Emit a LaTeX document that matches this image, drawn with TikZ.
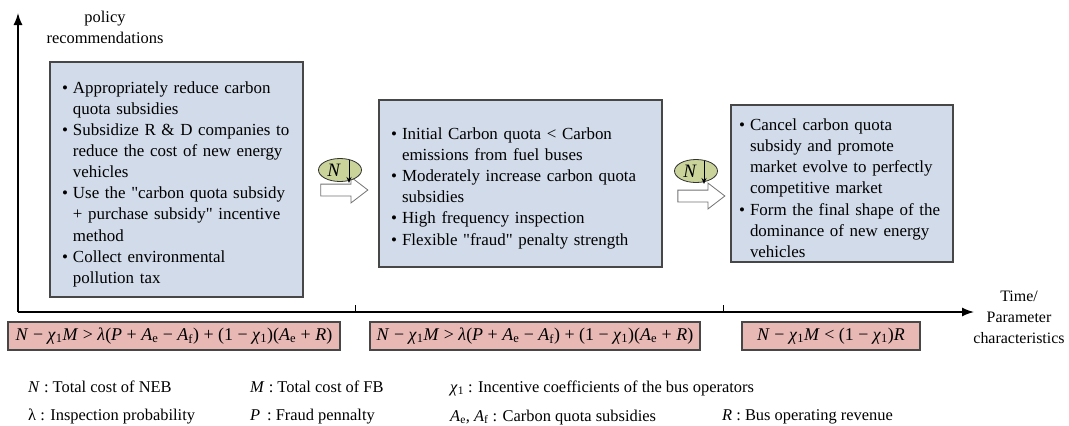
\documentclass[tikz,border=0pt]{standalone}
\usepackage{fontspec}
\setmainfont{Liberation Serif}[Ligatures=TeXOff]
\usepackage{enumitem}
\usetikzlibrary{shapes.geometric,shapes.arrows,arrows.meta,calc}
\definecolor{boxblue}{RGB}{209,219,233}
\definecolor{boxpink}{RGB}{232,184,180}
\definecolor{ellgreen}{RGB}{201,211,154}
\newcommand\vv[1]{\textit{#1}}
\newcommand\sbs[1]{\textsubscript{#1}}
\newcommand\blist[1]{\begin{itemize}[label=\textbullet,leftmargin=12bp,labelsep=5bp,nosep]#1\end{itemize}}
\tikzset{
  bluebox/.style={draw=black!72, line width=1.3bp, fill=boxblue, inner xsep=11bp, inner ysep=0pt, align=left, font=\fontsize{17}{21.2}\selectfont},
  pinkbox/.style={draw=black!72, line width=1.3bp, fill=boxpink, inner sep=0pt, minimum height=28bp, font=\fontsize{18}{20}\selectfont},
  ell/.style={ellipse, draw=black!80, line width=0.8bp, fill=ellgreen, minimum width=43bp, minimum height=23bp, inner sep=0pt},
  harrow/.style={single arrow, draw=black!55, fill=white, line width=0.8bp, minimum height=47bp, minimum width=21bp, inner sep=5.5bp, single arrow tip angle=75},
  axis/.style={line width=1.4bp, -{Latex[length=12bp,width=9bp]}},
  lbl/.style={font=\fontsize{16.5}{21}\selectfont, align=center, inner sep=0pt},
  leg/.style={font=\fontsize{16.5}{18}\selectfont, anchor=base west, inner sep=0pt},
  nlab/.style={font=\fontsize{19}{20}\selectfont, inner sep=0pt},
}
\begin{document}
\begin{tikzpicture}[x=1bp,y=-1bp]
\useasboundingbox (0,0) rectangle (1069,425);
% axes
\coordinate (O) at (18,312);
\coordinate (ytop) at (18,13);
\coordinate (xend) at (974,312);
\draw[axis] (O) -- (ytop);
\draw[axis] (O) -- (xend);
\coordinate (t1) at (355,312);
\coordinate (t2) at (723,312);
\draw[line width=1bp] (t1) -- ++(0,-7);
\draw[line width=1bp] (t2) -- ++(0,-7);
\node[lbl] (ylab) at (105,27) {policy\\recommendations};
\node[lbl, font=\fontsize{16}{21}\selectfont] (xlab) at (1019,317) {Time/\\Parameter\\characteristics};
% stage boxes
\node[bluebox, minimum width=253bp, minimum height=235bp, text width=231bp] (b1) at (176.5,179.5) {\blist{
\item Appropriately reduce carbon\\ quota subsidies
\item Subsidize R \& D companies to\\ reduce the cost of new energy\\ vehicles
\item Use the "carbon quota subsidy\\ + purchase subsidy" incentive\\ method
\item Collect environmental\\ pollution tax}};
\node[bluebox, minimum width=283bp, minimum height=167bp, text width=261bp] (b2) at (520.5,183.5) {\blist{
\item Initial Carbon quota < Carbon\\ emissions from fuel buses
\item Moderately increase carbon quota\\ subsidies
\item High frequency inspection
\item Flexible "fraud" penalty strength}};
\node[bluebox, inner xsep=7bp, minimum width=222bp, minimum height=157bp, text width=208bp] (b3) at (842,183.5) {\blist{
\item Cancel carbon quota\\ subsidy and promote\\ market evolve to perfectly\\ competitive market
\item Form the final shape of the\\ dominance of new energy\\ vehicles}};
% transition arrows
\node[harrow] (a1) at (340.5,190) {};
\node[ell] (e1) at (340,170) {};
\node[nlab] (n1) at ($(e1.center)+(-6,0)$) {\vv{N}};
\draw[line width=0.9bp, -{Stealth[length=6bp,width=5bp]}] ($(e1.center)+(9,-10)$) -- ($(e1.center)+(9,13)$);
\node[harrow] (a2) at (697.5,196) {};
\node[ell] (e2) at (696,171) {};
\node[nlab] (n2) at ($(e2.center)+(-6,0)$) {\vv{N}};
\draw[line width=0.9bp, -{Stealth[length=6bp,width=5bp]}] ($(e2.center)+(8,-10)$) -- ($(e2.center)+(8,13)$);
% conditions
\node[pinkbox, minimum width=332bp] (f1) at (174,336) {\vv{N} − \vv{χ}\sbs{1}\vv{M} > \vv{λ}(\vv{P} + \vv{A}\sbs{e} − \vv{A}\sbs{f}) + (1 − \vv{χ}\sbs{1})(\vv{A}\sbs{e} + \vv{R})};
\node[pinkbox, minimum width=330bp] (f2) at (535,336) {\vv{N} − \vv{χ}\sbs{1}\vv{M} > \vv{λ}(\vv{P} + \vv{A}\sbs{e} − \vv{A}\sbs{f}) + (1 − \vv{χ}\sbs{1})(\vv{A}\sbs{e} + \vv{R})};
\node[pinkbox, minimum width=178bp] (f3) at (831,336) {\vv{N} − \vv{χ}\sbs{1}\vv{M} < (1 − \vv{χ}\sbs{1})\vv{R}};
% legend
\node[leg] (g1) at (28,392) {\vv{N} : Total cost of NEB};
\node[leg] (g2) at (250,392) {\vv{M} : Total cost of FB};
\node[leg] (g3) at (450,392) {\vv{χ}\sbs{1} : Incentive coefficients of the bus operators};
\node[leg] (g4) at (28,420) {λ : Inspection probability};
\node[leg] (g5) at (250,420) {\vv{P}\, : Fraud pennalty};
\node[leg] (g6) at (450,421) {\vv{A}\sbs{e}, \vv{A}\sbs{f} : Carbon quota subsidies};
\node[leg] (g7) at (722,420) {\vv{R} : Bus operating revenue};
\end{tikzpicture}
\end{document}
